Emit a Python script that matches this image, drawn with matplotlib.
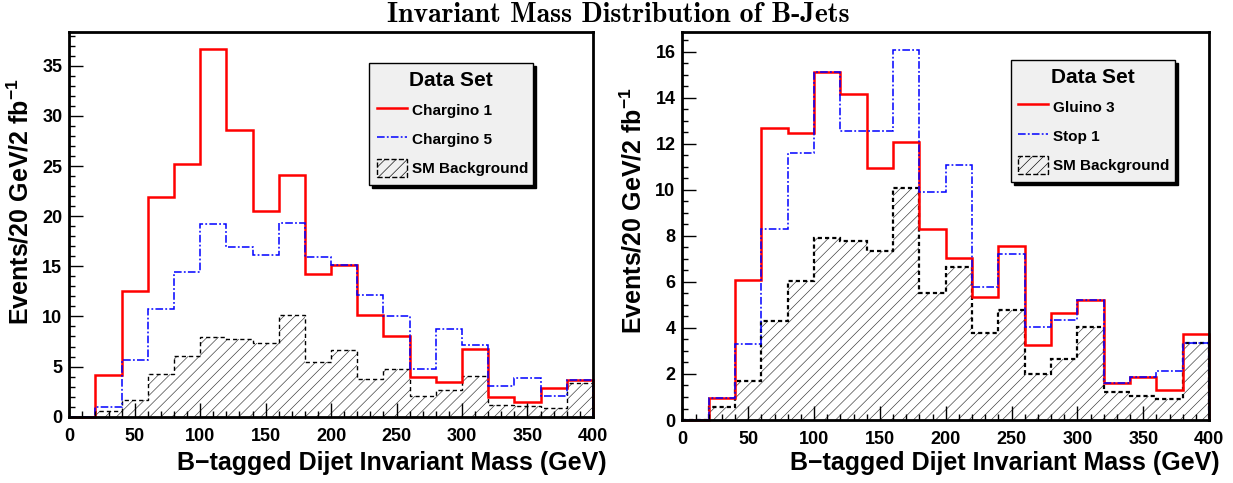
import numpy as np
import matplotlib
matplotlib.use('Agg')
import matplotlib.pyplot as plt
from matplotlib.lines import Line2D
from matplotlib.patches import Patch
from matplotlib.ticker import MultipleLocator
from matplotlib import font_manager as fm

# bin edges (GeV) and contents per 20 GeV bin
edges = np.arange(0, 420, 20)

chargino1 = [0.0, 4.15, 12.5, 21.9, 25.2, 36.7, 28.6, 20.5, 24.1, 14.25,
             15.1, 10.1, 8.0, 4.0, 3.5, 6.8, 2.0, 1.5, 2.9, 3.7]
chargino5 = [0.0, 0.93, 5.65, 10.7, 14.4, 19.2, 16.9, 16.1, 19.3, 15.9,
             15.1, 12.1, 10.0, 4.8, 8.7, 7.2, 3.1, 3.9, 2.1, 3.7]
gluino3 = [0.0, 0.94, 6.08, 12.7, 12.45, 15.1, 14.16, 10.96, 12.08, 8.3,
           7.05, 5.36, 7.57, 3.24, 4.66, 5.21, 1.59, 1.85, 1.30, 3.72]
stop1 = [0.0, 0.94, 3.29, 8.28, 11.6, 15.1, 12.55, 12.55, 16.07, 9.9,
         11.08, 5.76, 7.2, 4.05, 4.34, 5.21, 1.59, 1.85, 2.13, 3.33]
sm_bkg = [0.0, 0.55, 1.68, 4.3, 6.05, 7.9, 7.78, 7.35, 10.1, 5.5,
          6.65, 3.78, 4.78, 2.02, 2.67, 4.02, 1.2, 1.05, 0.9, 3.35]

left_labels = ['Chargino 1', 'Chargino 5', 'SM Background']
right_labels = ['Gluino 3', 'Stop 1', 'SM Background']

plt.rcParams['font.family'] = ['Liberation Sans', 'DejaVu Sans']
plt.rcParams['font.weight'] = 'bold'
plt.rcParams['axes.labelweight'] = 'bold'
plt.rcParams['mathtext.fontset'] = 'custom'
plt.rcParams['mathtext.rm'] = 'Liberation Sans:bold'
plt.rcParams['mathtext.default'] = 'rm'
plt.rcParams['hatch.linewidth'] = 0.45
plt.rcParams['lines.scale_dashes'] = False

dashdot = (0, (5.5, 1.6, 1.3, 1.6))
dashed = (0, (3, 2.2))

fig = plt.figure(figsize=(12.33, 4.83), dpi=100)
ax1 = fig.add_axes([0.0562, 0.1373, 0.4247, 0.797])
ax2 = fig.add_axes([0.5534, 0.1304, 0.4272, 0.804])


def draw(ax, red, blue, bkg, sm_lw, ymax, ymaj, ymin):
    ax.stairs(bkg, edges, fill=True, facecolor='white', edgecolor='#333333',
              hatch='///', linewidth=0)
    ax.stairs(bkg, edges, color='black', lw=sm_lw, linestyle=dashed)
    ax.stairs(red, edges, color='red', lw=1.8, clip_on=False)
    ax.stairs(blue, edges, color='blue', lw=1.1, linestyle=dashdot)
    ax.set_xlim(0, 400)
    ax.set_ylim(0, ymax)
    ax.xaxis.set_major_locator(MultipleLocator(50))
    ax.xaxis.set_minor_locator(MultipleLocator(10))
    ax.yaxis.set_major_locator(MultipleLocator(ymaj))
    ax.yaxis.set_minor_locator(MultipleLocator(ymin))
    ax.tick_params(which='both', direction='in', top=False, right=False,
                   labelsize=13, width=1)
    ax.tick_params(which='major', length=10)
    ax.tick_params(which='minor', length=4.5)
    ax.tick_params(axis='x', pad=8)
    ax.tick_params(axis='y', pad=5)
    for s in ax.spines.values():
        s.set_linewidth(2)


def legend(ax, labels, anchor):
    handles = [Line2D([], [], color='red', lw=1.8),
               Line2D([], [], color='blue', lw=1.1, linestyle=dashdot),
               Patch(facecolor='none', edgecolor='black', hatch='///',
                     linestyle='--', lw=1)]
    leg = ax.legend(handles, labels, title='Data Set', loc='upper left',
                    bbox_to_anchor=anchor, mode='expand', borderaxespad=0,
                    prop=fm.FontProperties(family='Liberation Sans', weight='bold', size=11),
                    title_fontproperties=fm.FontProperties(family='Liberation Sans', weight='bold', size=15),
                    fancybox=False, framealpha=1, edgecolor='black',
                    facecolor='#f0f0f0', shadow={'color': 'black', 'alpha': 1},
                    handlelength=1.96, handleheight=1.5, handletextpad=0.32,
                    labelspacing=0.69, borderpad=0.5)
    leg.get_frame().set_linewidth(1)


draw(ax1, chargino1, chargino5, sm_bkg, 1.0, 38.4, 5, 1)
draw(ax2, gluino3, stop1, sm_bkg, 1.6, 16.87, 2, 0.5)
legend(ax1, left_labels, (0.573, 0.602, 0.313, 0.316))
legend(ax2, right_labels, (0.6235, 0.614, 0.3125, 0.313))

ylab = 'Events/20 GeV/2 fb$^{-1}$'
xlab = 'B\u2212tagged Dijet Invariant Mass (GeV)'
# y titles: right edge x and top y in pixels, x titles: right end x, top y
for ax, yx, yy in [(ax1, 34, 78), (ax2, 647, 87)]:
    fig.text(yx / 1233, 1 - yy / 483, ylab, rotation=90, ha='right', va='top',
             fontsize=18, fontweight='bold')
for ax, xx in [(ax1, 607), (ax2, 1220)]:
    fig.text(xx / 1233, 1 - 451 / 483, xlab, ha='right', va='top',
             fontsize=18, fontweight='bold')

fig.text(0.5016, 1 - 15 / 483, 'Invariant Mass Distribution of B-Jets',
         ha='center', va='center', fontfamily='cmb10', fontsize=20)

fig.savefig('out.png', dpi=100)
